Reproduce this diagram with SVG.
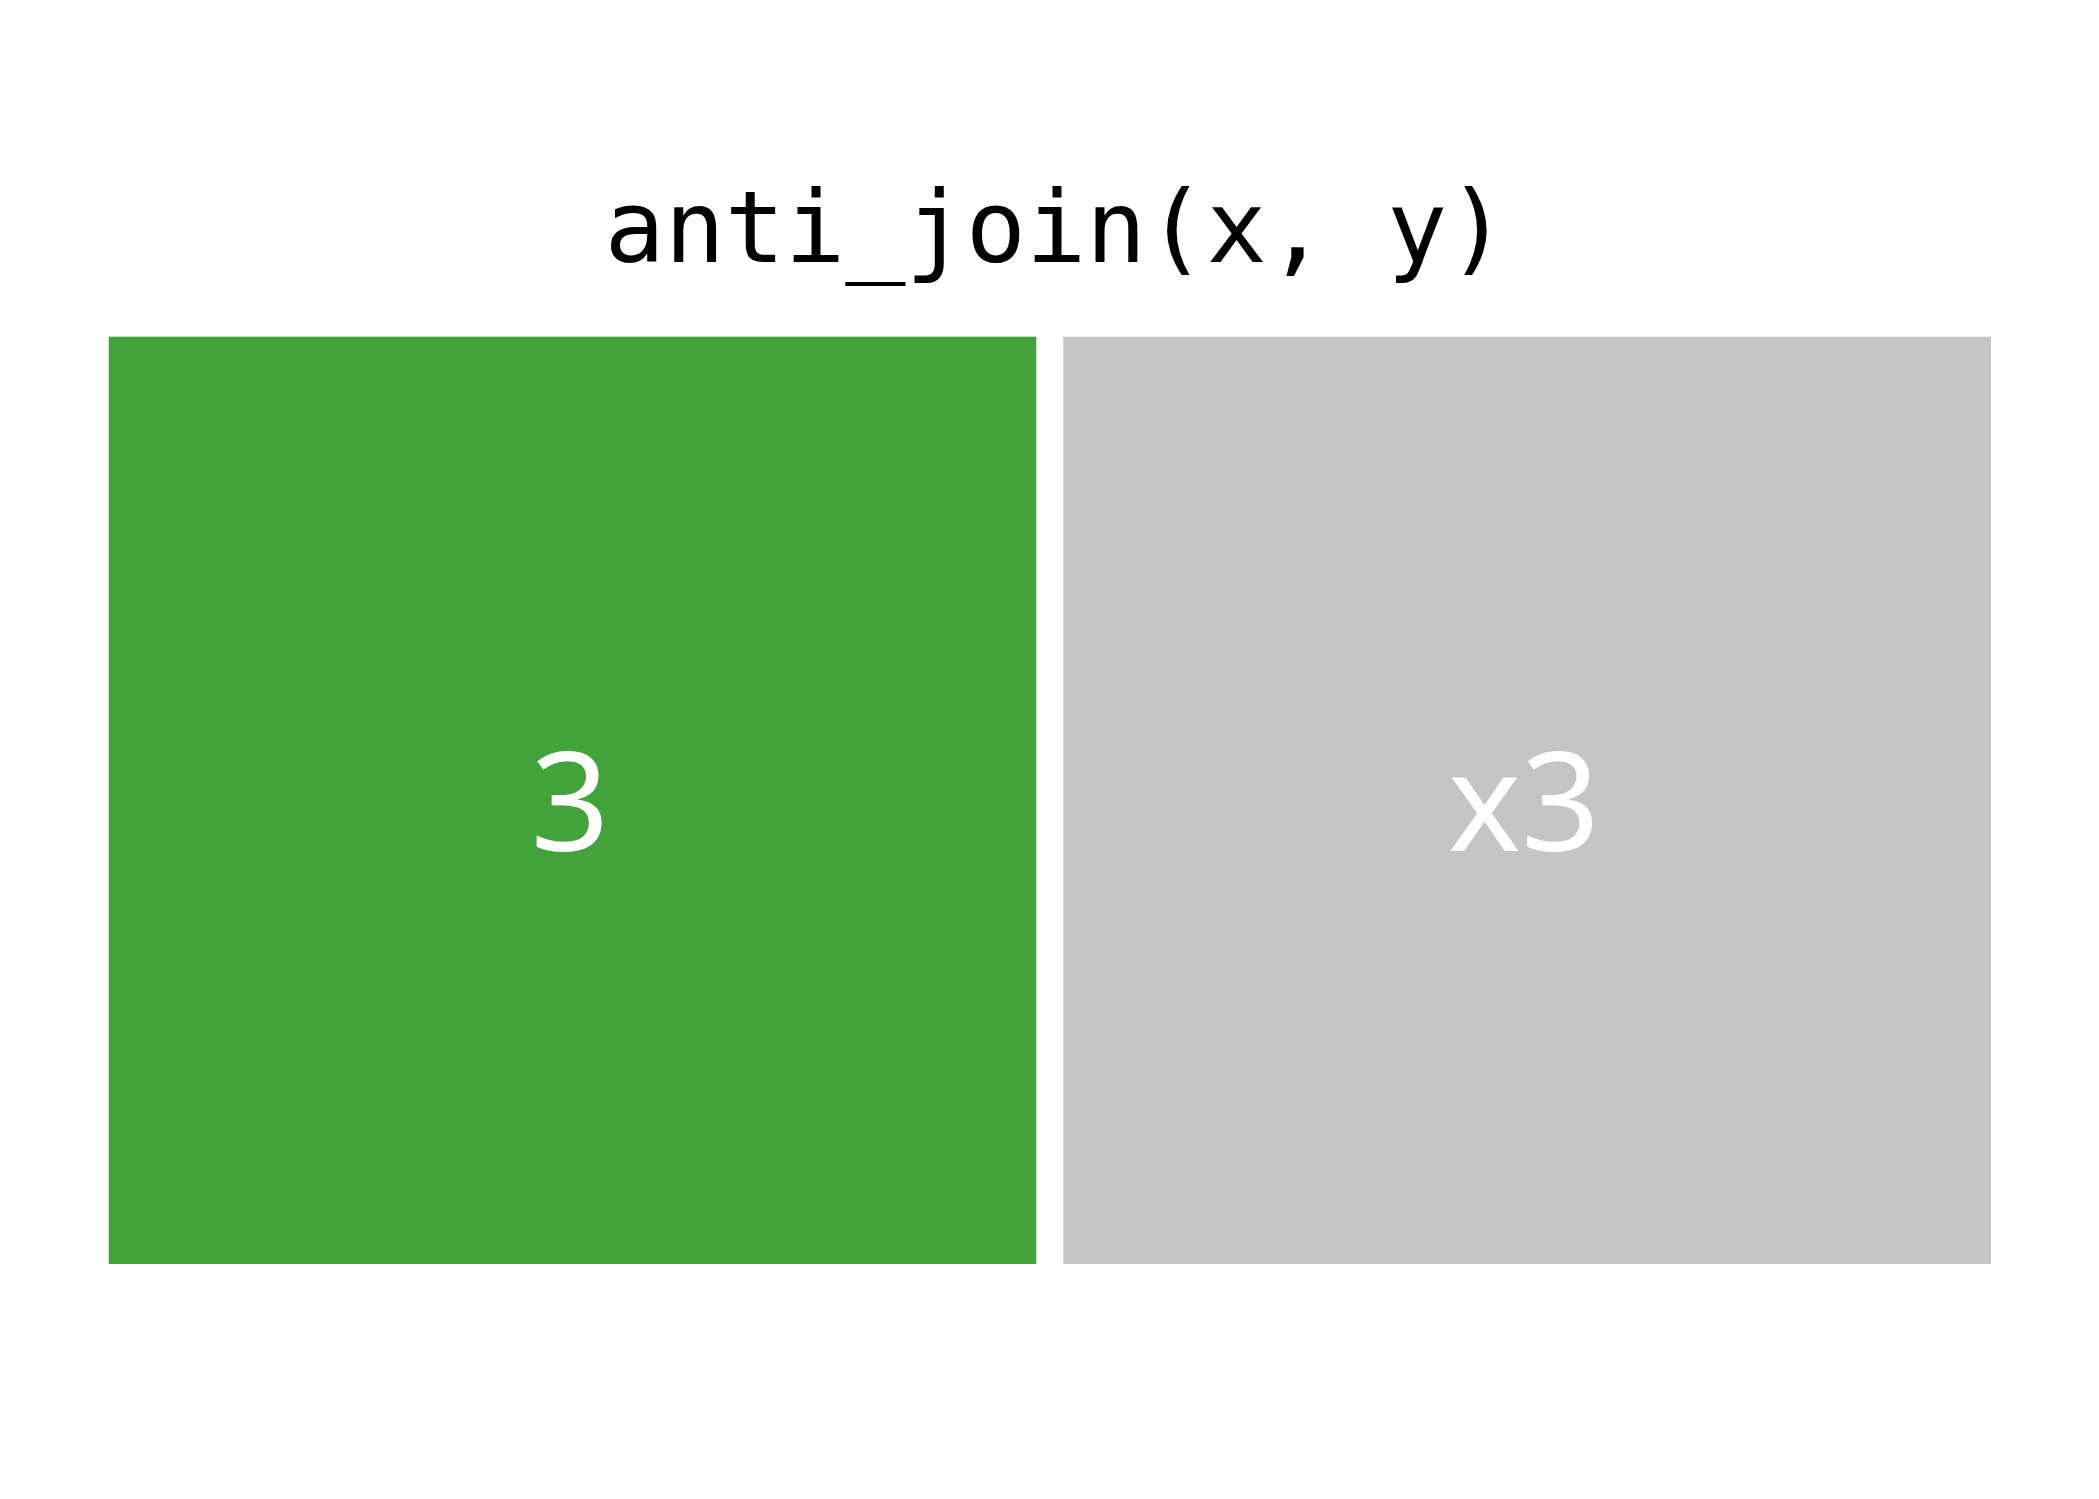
<svg xmlns="http://www.w3.org/2000/svg" width="2099" height="1499" viewBox="0 0 2099 1499">
<style>
.title{font-family:"DejaVu Sans Mono","Liberation Mono",monospace;font-size:100px;fill:#000}
.lbl{font-family:"Noto Sans","Open Sans",sans-serif;font-size:138px;fill:#fff;text-anchor:middle}
</style>
<rect width="2099" height="1499" fill="#fff"/>
<text class="title" x="1056" y="262" text-anchor="middle">anti_join(x, y)</text>
<g id="node-x">
<rect x="108.7" y="336.7" width="927.6" height="927.3" fill="#42A33A"/>
<text class="lbl" x="570" y="851">3</text>
</g>
<g id="node-y">
<rect x="1063.3" y="336.7" width="927.7" height="927.3" fill="#C5C5C5"/>
<text class="lbl" x="1524" y="851">x3</text>
</g>
<g id="connectors"></g>
</svg>
